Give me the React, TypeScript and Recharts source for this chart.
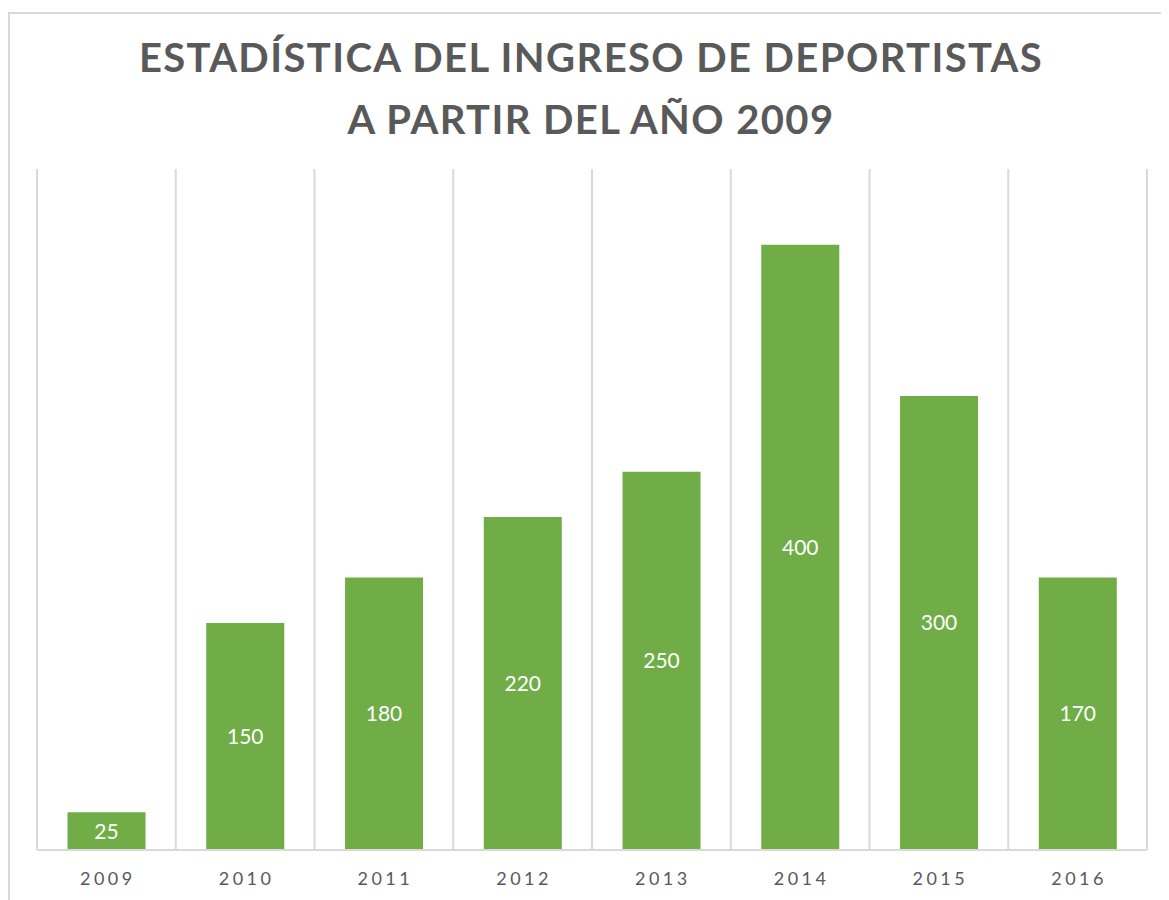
import React from 'react';
import { BarChart, Bar, XAxis, YAxis, CartesianGrid, LabelList } from 'recharts';

const years = ['2009', '2010', '2011', '2012', '2013', '2014', '2015', '2016'];
// bar heights as drawn in the picture
const ingresos = [25, 150, 180, 220, 250, 400, 300, 180];
// labels printed on the bars (the last one reads 170 in the source)
const etiquetas = ['25', '150', '180', '220', '250', '400', '300', '170'];

const titleLines = ['ESTADÍSTICA DEL INGRESO DE DEPORTISTAS', 'A PARTIR DEL AÑO 2009'];

const data = years.map((y, i) => ({ year: y, value: ingresos[i], label: etiquetas[i] }));

const FONT = 'Lato, "Open Sans", sans-serif';

const YearTick = ({ x, y, payload }: any) => (
  <text
    x={x + 1.5} y={y + 27} textAnchor="middle"
    fill="#595959" fontSize={18} fontFamily={FONT} letterSpacing={3.5}
  >
    {payload.value}
  </text>
);

export default function App() {
  return (
    <div style={{
      position: 'relative', marginTop: 4, width: 1161, height: 888,
      borderLeft: '2px solid #d9d9d9', borderTop: '2px solid #d9d9d9',
      boxSizing: 'border-box', background: '#fff',
    }}>
      <div style={{
        position: 'absolute', left: 27, width: 1108, top: 12,
        textAlign: 'center', fontFamily: FONT, fontWeight: 700,
        fontSize: 40, lineHeight: '62px', letterSpacing: 1.4, color: '#595959',
      }}>
        {titleLines.map(t => <div key={t}>{t}</div>)}
      </div>

      <BarChart
        width={1159} height={886} data={data}
        margin={{ top: 155, right: 22, bottom: 0, left: 27 }}
        barCategoryGap="22%"
        style={{ position: 'absolute', left: 0, top: 0 }}
      >
        <CartesianGrid
          horizontal={false}
          stroke="#d9d9d9" strokeWidth={2}
          verticalCoordinatesGenerator={({ offset }: any) =>
            years.map((_, i) => offset.left + (i * offset.width) / years.length).concat(offset.left + offset.width)}
        />
        <XAxis
          dataKey="year" height={50}
          axisLine={{ stroke: '#d9d9d9', strokeWidth: 2 }}
          tickLine={false} tick={<YearTick />} interval={0}
        />
        <YAxis hide domain={[0, 450]} />
        <Bar dataKey="value" fill="#70ad47" isAnimationActive={false}>
          <LabelList dataKey="label" position="center" fill="#fff" fontSize={21} fontFamily={FONT} />
        </Bar>
      </BarChart>
    </div>
  );
}
